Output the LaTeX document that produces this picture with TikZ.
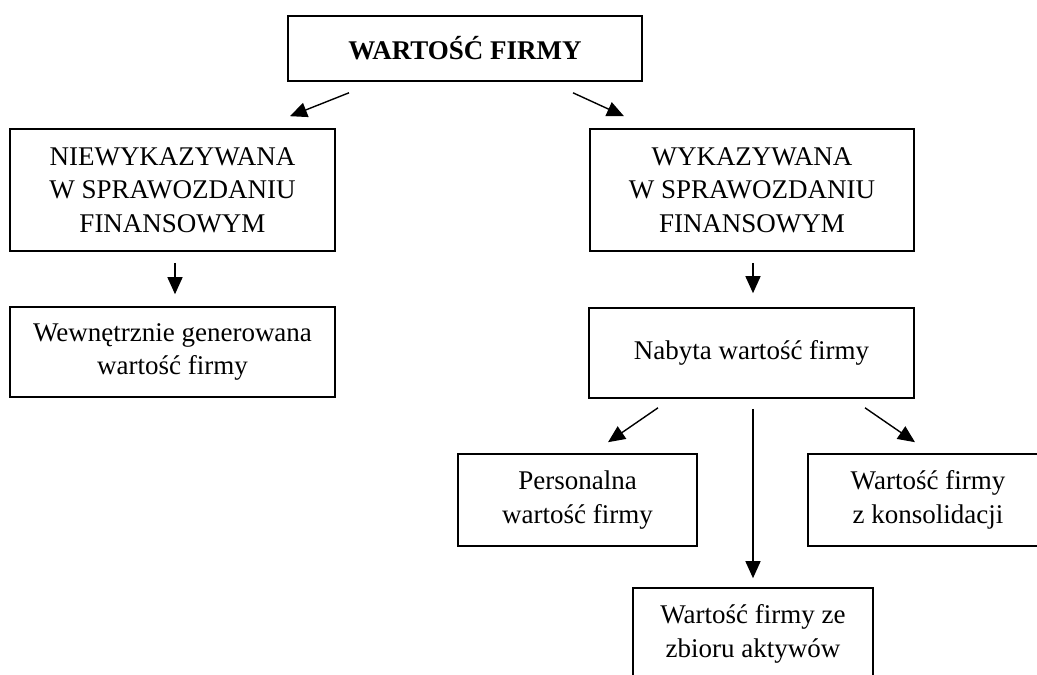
\documentclass[tikz,border=0pt]{standalone}
\usepackage{fontspec}
\setmainfont{Liberation Serif}
\usetikzlibrary{arrows.meta}
\tikzset{
  box/.style={draw=black, line width=1.6pt, fill=white, inner sep=0pt, align=center,
              font=\fontsize{27pt}{33.5pt}\selectfont},
  arr/.style={line width=1.4pt, -{Triangle[length=17pt,width=15pt]}}
}
\begin{document}
\begin{tikzpicture}[x=1pt,y=-1pt]
\useasboundingbox (0,0) rectangle (1037,675);
\clip (0,0) rectangle (1037,675);
\fill[white] (0,0) rectangle (1037,675);

\node[box, minimum width=354pt, minimum height=65pt] (top) at (465,48.5) {\bfseries WARTOŚĆ FIRMY};
\node[box, minimum width=325pt, minimum height=122pt] (left) at (172.5,190) {NIEWYKAZYWANA\\W SPRAWOZDANIU\\FINANSOWYM};
\node[box, minimum width=324pt, minimum height=122pt] (right) at (752,190) {WYKAZYWANA\\W SPRAWOZDANIU\\FINANSOWYM};
\node[box, minimum width=325pt, minimum height=90pt] (lowleft) at (172.5,352) {Wewnętrznie generowana\\wartość firmy};
\node[box, minimum width=325pt, minimum height=90pt] (nabyta) at (751.5,353) {Nabyta wartość firmy};
\node[box, minimum width=239pt, minimum height=92pt] (pers) at (577.5,500) {Personalna\\wartość firmy};
\node[box, minimum width=240pt, minimum height=92pt] (kons) at (928,500) {Wartość firmy\\z konsolidacji};
\node[box, minimum width=240pt, minimum height=92pt] (zbior) at (753,634) {Wartość firmy ze\\zbioru aktywów};

\draw[arr] ([xshift=-116pt,yshift=-11pt]top.south) -- ([xshift=117.5pt,yshift=12pt]left.north);
\draw[arr] ([xshift=108pt,yshift=-11pt]top.south) -- ([xshift=-128pt,yshift=12pt]right.north);
\draw[arr] ([xshift=2.5pt,yshift=-11pt]left.south) -- ([xshift=2.5pt,yshift=12pt]lowleft.north);
\draw[arr] ([xshift=1pt,yshift=-11pt]right.south) -- ([xshift=1.5pt,yshift=14pt]nabyta.north);
\draw[arr] ([xshift=-93.5pt,yshift=-9pt]nabyta.south) -- ([xshift=30.5pt,yshift=11pt]pers.north);
\draw[arr] ([xshift=113.5pt,yshift=-9pt]nabyta.south) -- ([xshift=-13pt,yshift=11pt]kons.north);
\draw[arr] ([xshift=1.5pt,yshift=-10pt]nabyta.south) -- ([yshift=9pt]zbior.north);
\end{tikzpicture}
\end{document}
